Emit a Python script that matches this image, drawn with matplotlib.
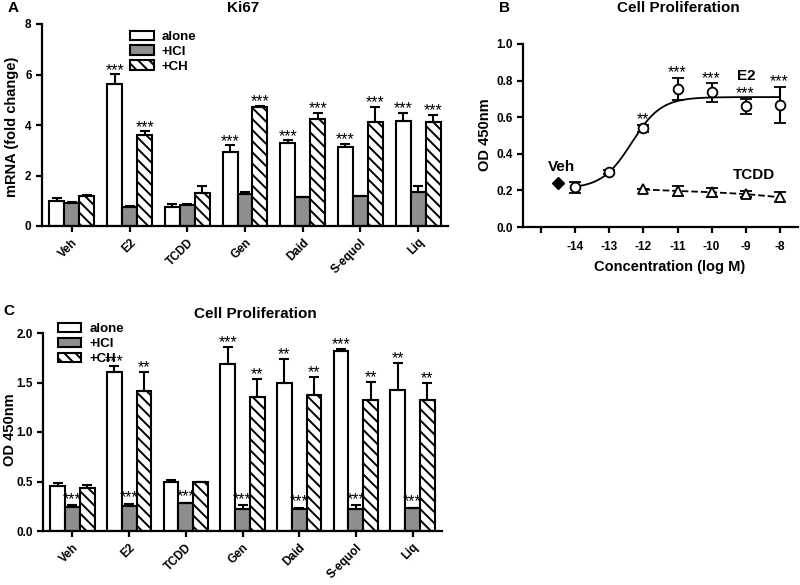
import numpy as np
import matplotlib
matplotlib.use("Agg")
import matplotlib.pyplot as plt
from matplotlib.patches import Patch

plt.rcParams['font.family'] = ['Liberation Sans', 'DejaVu Sans']
plt.rcParams['font.weight'] = 'bold'
plt.rcParams['axes.labelweight'] = 'bold'
plt.rcParams['hatch.linewidth'] = 1.4

# ---------------- data ----------------
categories = ["Veh", "E2", "TCDD", "Gen", "Daid", "S-equol", "Liq"]
series = ["alone", "+ICI", "+CH"]

# Panel A: Ki67 mRNA (fold change)
ki67_alone = [1.00, 5.62, 0.75, 2.93, 3.28, 3.12, 4.16]
ki67_alone_err = [0.10, 0.40, 0.13, 0.28, 0.12, 0.13, 0.33]
ki67_ici = [0.93, 0.75, 0.83, 1.28, 1.13, 1.17, 1.33]
ki67_ici_err = [0.04, 0.04, 0.04, 0.05, 0.03, 0.03, 0.24]
ki67_ch = [1.18, 3.62, 1.30, 4.73, 4.24, 4.12, 4.12]
ki67_ch_err = [0.05, 0.13, 0.28, 0.03, 0.25, 0.60, 0.29]
ki67_alone_sig = ["", "***", "", "***", "***", "***", "***"]
ki67_ici_sig = ["", "", "", "", "", "", ""]
ki67_ch_sig = ["", "***", "", "***", "***", "***", "***"]

# Panel B: dose response
conc_e2 = [-14, -13, -12, -11, -10, -9, -8]
od_e2 = [0.218, 0.300, 0.540, 0.753, 0.735, 0.660, 0.667]
od_e2_err = [0.03, 0.01, 0.02, 0.06, 0.05, 0.04, 0.10]
e2_sig = ["", "", "**", "***", "***", "***", "***"]
conc_tcdd = [-12, -11, -10, -9, -8]
od_tcdd = [0.205, 0.197, 0.190, 0.180, 0.163]
od_tcdd_err = [0.0, 0.025, 0.025, 0.015, 0.027]
veh_conc = -14.5
veh_od = 0.238
# fitted sigmoid (bottom, top, logEC50, hill slope)
fit_bottom, fit_top, fit_logec50, fit_hill = 0.21, 0.71, -12.35, 1.0

# Panel C: cell proliferation OD 450nm
prol_alone = [0.45, 1.61, 0.49, 1.69, 1.50, 1.82, 1.42]
prol_alone_err = [0.035, 0.06, 0.025, 0.17, 0.24, 0.02, 0.28]
prol_ici = [0.240, 0.255, 0.280, 0.225, 0.218, 0.225, 0.230]
prol_ici_err = [0.02, 0.02, 0.005, 0.035, 0.015, 0.035, 0.005]
prol_ch = [0.43, 1.41, 0.49, 1.35, 1.37, 1.32, 1.32]
prol_ch_err = [0.03, 0.20, 0.003, 0.19, 0.19, 0.19, 0.18]
prol_alone_sig = ["", "***", "", "***", "**", "***", "**"]
prol_ici_sig = ["***"] * 7
prol_ch_sig = ["", "**", "", "**", "**", "**", "**"]

GRAY = '#8e8e8e'
STAR_SIZE = 11.5
W, H = 800, 585
fig = plt.figure(figsize=(8, 5.85), dpi=100)


def fx(px):
    return px / W


def fy(py):
    return 1 - py / H


def axes_px(l, t, r, b):
    return fig.add_axes([fx(l), fy(b), (r - l) / W, (b - t) / H])


def style(ax):
    for s in ['top', 'right']:
        ax.spines[s].set_visible(False)
    for s in ['left', 'bottom']:
        ax.spines[s].set_linewidth(1.6)
    ax.tick_params(width=1.6, length=4, direction='out', labelsize=8.5)
    for lab in ax.get_xticklabels() + ax.get_yticklabels():
        lab.set_fontweight('bold')


def bar_panel(ax, data, errs, sigs, star_extra):
    x = np.arange(len(categories))
    w = 0.26
    faces = ['white', GRAY, 'white']
    hatches = [None, None, '\\\\\\']
    for i, (vals, e, sg) in enumerate(zip(data, errs, sigs)):
        xs = x + (i - 1) * w
        ax.bar(xs, vals, w, color=faces[i], edgecolor='black', linewidth=1.5,
               hatch=hatches[i], zorder=2)
        ax.errorbar(xs, vals, yerr=[np.zeros(len(vals)), e], fmt='none',
                    ecolor='black', elinewidth=1.5, capsize=3.5, capthick=1.5,
                    zorder=3)
        for xi, v, ei, s in zip(xs, vals, e, sg):
            if s:
                ax.annotate(s, (xi, v + ei), xytext=(0, star_extra[i]),
                            textcoords='offset points', ha='center',
                            va='baseline', fontsize=STAR_SIZE,
                            fontweight='normal', zorder=4)
    ax.set_xticks(x)
    ax.set_xticklabels(categories, rotation=45, ha='right',
                       rotation_mode='anchor', fontsize=9.5, fontweight='bold')
    ax.set_xlim(-0.52, 6.52)


def legend(ax, loc_xy):
    handles = [Patch(facecolor='white', edgecolor='black', linewidth=1.5),
               Patch(facecolor=GRAY, edgecolor='black', linewidth=1.5),
               Patch(facecolor='white', edgecolor='black', linewidth=1.5,
                     hatch='\\\\\\')]
    leg = ax.legend(handles, series, loc='upper left', bbox_to_anchor=loc_xy,
                    frameon=False, handlelength=1.8, handleheight=0.7,
                    labelspacing=0.2, borderpad=0, handletextpad=0.6,
                    prop={'weight': 'bold', 'size': 9.5})
    return leg


# ---------------- Panel A ----------------
axA = axes_px(42, 24, 448, 226)
bar_panel(axA, [ki67_alone, ki67_ici, ki67_ch],
          [ki67_alone_err, ki67_ici_err, ki67_ch_err],
          [ki67_alone_sig, ki67_ici_sig, ki67_ch_sig], [-0.5, -0.5, -0.5])
axA.set_ylim(0, 8)
axA.set_yticks([0, 2, 4, 6, 8])
style(axA)
legend(axA, (0.2, 1.0))

# ---------------- Panel B ----------------
axB = axes_px(523, 44, 798, 227)
xc = np.linspace(conc_e2[0], conc_e2[-1], 200)
yc = fit_bottom + (fit_top - fit_bottom) / (1 + 10 ** ((fit_logec50 - xc) * fit_hill))
axB.plot(xc, yc, color='black', lw=1.3, zorder=2)
axB.errorbar(conc_e2, od_e2, yerr=od_e2_err, fmt='o', mfc='white', mec='black',
             mew=1.3, ms=7, ecolor='black', elinewidth=1.5, capsize=4,
             capthick=1.5, zorder=3)
axB.errorbar(conc_tcdd, od_tcdd, yerr=od_tcdd_err, fmt='^--', color='black',
             mfc='white', mec='black', mew=1.3, ms=7, lw=1.3, ecolor='black',
             elinewidth=1.5, capsize=4, capthick=1.5, zorder=3)
axB.plot([veh_conc], [veh_od], 'D', color='black', ms=6, zorder=3)
for xv, yv, ev, s in zip(conc_e2, od_e2, od_e2_err, e2_sig):
    if s:
        axB.annotate(s, (xv, yv + ev), xytext=(0, 0.5), textcoords='offset points',
                     ha='center', va='baseline', fontsize=STAR_SIZE,
                     fontweight='normal')
axB.text(-8.98, 0.823, "E2", ha='center', va='center', fontsize=11, fontweight='bold')
axB.text(-8.74, 0.283, "TCDD", ha='center', va='center', fontsize=11, fontweight='bold')
axB.text(-14.41, 0.33, "Veh", ha='center', va='center', fontsize=11, fontweight='bold')
axB.set_xlim(-15.54, -7.46)
axB.set_ylim(0, 1.0)
axB.set_xticks([-15, -14, -13, -12, -11, -10, -9, -8])
axB.set_xticklabels(["", "-14", "-13", "-12", "-11", "-10", "-9", "-8"])
axB.set_yticks([0, 0.2, 0.4, 0.6, 0.8, 1.0])
axB.set_yticklabels(["0.0", "0.2", "0.4", "0.6", "0.8", "1.0"])
style(axB)
axB.tick_params(axis='x', pad=6)

# ---------------- Panel C ----------------
axC = axes_px(43, 333, 442, 531)
bar_panel(axC, [prol_alone, prol_ici, prol_ch],
          [prol_alone_err, prol_ici_err, prol_ch_err],
          [prol_alone_sig, prol_ici_sig, prol_ch_sig], [-0.5, 1.0, -0.5])
axC.set_ylim(0, 2.0)
axC.set_yticks([0, 0.5, 1.0, 1.5, 2.0])
axC.set_yticklabels(["0.0", "0.5", "1.0", "1.5", "2.0"])
style(axC)
legend(axC, (0.02, 1.085))

# ---------------- labels / titles ----------------
fig.text(fx(13), fy(8), "A", ha='center', va='center', fontsize=11, fontweight='bold')
fig.text(fx(505), fy(8), "B", ha='center', va='center', fontsize=11, fontweight='bold')
fig.text(fx(9), fy(311), "C", ha='center', va='center', fontsize=11, fontweight='bold')
fig.text(fx(243), fy(8), "Ki67", ha='center', va='center', fontsize=11, fontweight='bold')
fig.text(fx(678), fy(8), "Cell Proliferation", ha='center', va='center', fontsize=11, fontweight='bold')
fig.text(fx(255), fy(314), "Cell Proliferation", ha='center', va='center', fontsize=11, fontweight='bold')
fig.text(fx(12), fy(127), "mRNA (fold change)", rotation=90, ha='center', va='center', fontsize=10.5, fontweight='bold')
fig.text(fx(485), fy(135), "OD 450nm", rotation=90, ha='center', va='center', fontsize=10.5, fontweight='bold')
fig.text(fx(10), fy(430), "OD 450nm", rotation=90, ha='center', va='center', fontsize=10.5, fontweight='bold')
fig.text(fx(670), fy(267), "Concentration (log M)", ha='center', va='center', fontsize=10.5, fontweight='bold')

fig.savefig("out.png", dpi=100)
